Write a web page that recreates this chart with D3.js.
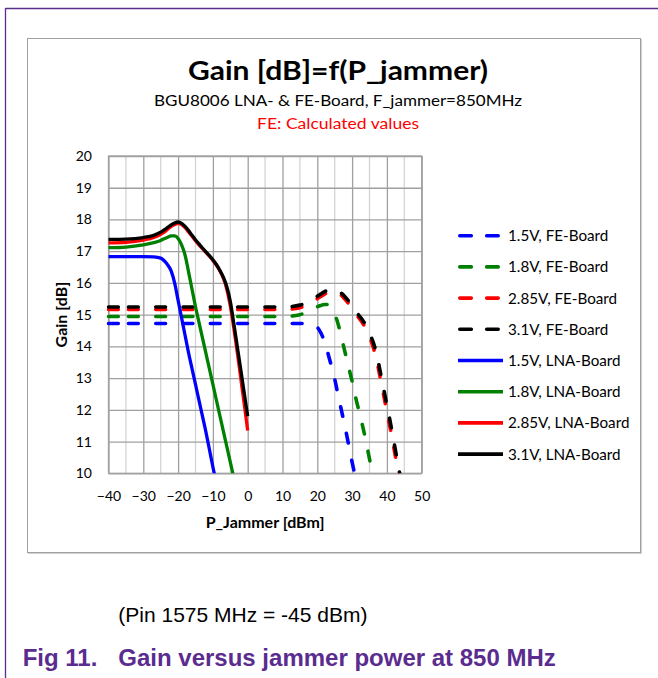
<!DOCTYPE html>
<html>
<head>
<meta charset="utf-8">
<script src="https://cdn.jsdelivr.net/npm/d3@7"></script>
<style>
  body { margin: 0; background: #fff; }
  .tick text { font-family: Lato, "Open Sans", sans-serif; font-size: 14px; fill: #000; }
  .lbl { font-family: Lato, "Open Sans", sans-serif; }
</style>
</head>
<body>
<div id="chart"></div>
<script>
// tick values
const xTicks = [-40, -30, -20, -10, 0, 10, 20, 30, 40, 50];
const yTicks = [10, 11, 12, 13, 14, 15, 16, 17, 18, 19, 20];

// FE-Board (calculated) - jammer power in dBm
const fePower = [-40, -30, -20, -10, 0, 10, 15, 18, 20, 21, 22, 23, 24, 25, 26, 27, 28, 29, 30, 31, 32, 33, 34, 35, 36, 37, 38, 39, 40, 41, 42, 43, 44];
const fe15 = [14.72, 14.72, 14.72, 14.72, 14.72, 14.72, 14.72, 14.71, 14.6, 14.43, 14.17, 13.8, 13.4, 12.97, 12.45, 11.95, 11.45, 10.9, 10.35, 9.85, null, null, null, null, null, null, null, null, null, null, null, null, null];
const fe18 = [14.94, 14.94, 14.94, 14.94, 14.94, 14.94, 15.0, 15.13, 15.25, 15.29, 15.32, 15.32, 15.22, 15.02, 14.7, 14.25, 13.8, 13.35, 12.9, 12.4, 11.95, 11.5, 11.0, 10.45, 9.9, null, null, null, null, null, null, null, null];
const fe285 = [15.16, 15.16, 15.16, 15.16, 15.16, 15.16, 15.22, 15.37, 15.5, 15.57, 15.64, 15.7, 15.73, 15.73, 15.68, 15.6, 15.48, 15.35, 15.2, 15.04, 14.89, 14.74, 14.55, 14.3, 14.0, 13.6, 13.05, 12.5, 11.95, 11.4, 10.8, 10.2, 9.6];
const fe31 = [15.24, 15.24, 15.24, 15.24, 15.24, 15.24, 15.3, 15.45, 15.58, 15.65, 15.72, 15.77, 15.8, 15.8, 15.75, 15.67, 15.56, 15.43, 15.28, 15.12, 14.97, 14.83, 14.66, 14.42, 14.15, 13.78, 13.25, 12.7, 12.15, 11.6, 11.0, 10.4, 9.8];

// LNA-Board (measured)
const lnaPower = [-40, -35, -30, -27, -25, -24, -23, -22, -21, -20, -19, -18, -17, -16, -15, -14, -13, -12, -11, -10, -9, -8, -7, -6, -5, -4, -3, -2, -1, 0];
const lna15 = [16.83, 16.83, 16.83, 16.82, 16.78, 16.7, 16.57, 16.38, 16.0, 15.45, 14.9, 14.35, 13.8, 13.3, 12.8, 12.3, 11.8, 11.3, 10.75, 10.2, 9.7, null, null, null, null, null, null, null, null, null];
const lna18 = [17.11, 17.13, 17.2, 17.27, 17.34, 17.39, 17.44, 17.48, 17.48, 17.4, 17.2, 16.88, 16.35, 15.8, 15.25, 14.76, 14.27, 13.78, 13.29, 12.8, 12.31, 11.82, 11.33, 10.84, 10.35, 9.86, null, null, null, null];
const lna285 = [17.26, 17.28, 17.35, 17.43, 17.53, 17.6, 17.69, 17.78, 17.84, 17.88, 17.84, 17.74, 17.61, 17.47, 17.33, 17.2, 17.08, 16.96, 16.84, 16.71, 16.56, 16.38, 16.15, 15.8, 15.27, 14.58, 13.82, 13.0, 12.18, 11.35];
const lna31 = [17.37, 17.38, 17.43, 17.5, 17.6, 17.67, 17.75, 17.83, 17.89, 17.92, 17.88, 17.78, 17.65, 17.5, 17.36, 17.23, 17.1, 16.98, 16.86, 16.73, 16.58, 16.4, 16.18, 15.88, 15.42, 14.73, 14.0, 13.27, 12.53, 11.8];

const seriesNames = ['1.5V, FE-Board', '1.8V, FE-Board', '2.85V, FE-Board', '3.1V, FE-Board',
                     '1.5V, LNA-Board', '1.8V, LNA-Board', '2.85V, LNA-Board', '3.1V, LNA-Board'];

function gainChart() {
    const W = 658, H = 678;
    const plot = {left: 108.5, right: 421.7, top: 156, bottom: 473.3};
    const purple = '#5b2c8f';
    const colors = ['#0000ff', '#008000', '#ff0000', '#000000'];
    // long dash pattern: one dash at the start, then a regular 9.8 / 17.5 rhythm
    const dashPattern = '9.8,10.15,' + d3.range(60).map(() => '9.8,17.5').join(',');

    const svg = d3.select('#chart')
        .append('svg')
        .attr('width', W)
        .attr('height', H);

    // page frame (document border)
    svg.append('line').attr('x1', 5.5).attr('x2', W).attr('y1', 8.5).attr('y2', 8.5)
        .attr('stroke', purple).attr('stroke-width', 1.3);
    svg.append('line').attr('x1', 5.5).attr('x2', 5.5).attr('y1', 8).attr('y2', H)
        .attr('stroke', purple).attr('stroke-width', 1.3);

    // chart area box with a slight shadow
    svg.append('rect').attr('x', 28.5).attr('y', 39.5).attr('width', 613).attr('height', 514)
        .attr('fill', 'none').attr('stroke', '#d0d0d0');
    svg.append('rect').attr('x', 27.5).attr('y', 38.5).attr('width', 613).attr('height', 514)
        .attr('fill', '#fff').attr('stroke', '#a0a0a0');

    const xScale = d3.scaleLinear().domain([-40, 50]).range([plot.left, plot.right]);
    const yScale = d3.scaleLinear().domain([10, 20]).range([plot.bottom, plot.top]);
    const pw = plot.right - plot.left, ph = plot.bottom - plot.top;

    // minor vertical grid every 5 dBm
    const minorX = d3.range(-35, 50, 10);
    svg.append('g')
        .selectAll('line')
        .data(minorX)
        .join('line')
        .attr('x1', d => xScale(d)).attr('x2', d => xScale(d))
        .attr('y1', plot.top).attr('y2', plot.bottom)
        .attr('stroke', '#d4d4d4').attr('stroke-width', 1.3);

    // major grids
    svg.append('g')
        .attr('transform', `translate(0, ${plot.bottom})`)
        .call(d3.axisBottom(xScale).tickValues(xTicks).tickSize(-ph).tickFormat(''))
        .call(g => g.select('.domain').remove())
        .call(g => g.selectAll('line').attr('stroke', '#a0a0a0').attr('stroke-width', 1.3));
    svg.append('g')
        .attr('transform', `translate(${plot.left}, 0)`)
        .call(d3.axisLeft(yScale).tickValues(yTicks).tickSize(-pw).tickFormat(''))
        .call(g => g.select('.domain').remove())
        .call(g => g.selectAll('line').attr('stroke', '#a0a0a0').attr('stroke-width', 1.3));
    svg.append('rect')
        .attr('x', plot.left).attr('y', plot.top).attr('width', pw).attr('height', ph)
        .attr('fill', 'none').attr('stroke', '#a0a0a0').attr('stroke-width', 1.3);

    // tick labels
    svg.append('g')
        .attr('transform', `translate(0, ${plot.bottom})`)
        .call(d3.axisBottom(xScale).tickValues(xTicks).tickSize(0).tickPadding(18))
        .call(g => g.select('.domain').remove());
    svg.append('g')
        .attr('transform', `translate(${plot.left}, 0)`)
        .call(d3.axisLeft(yScale).tickValues(yTicks).tickSize(0).tickPadding(16.5))
        .call(g => g.select('.domain').remove());

    // clip lines to plot area
    svg.append('clipPath').attr('id', 'plotClip')
        .append('rect')
        .attr('x', plot.left - 2).attr('y', plot.top)
        .attr('width', pw + 4).attr('height', ph);

    const series = [
        {x: fePower, y: fe15}, {x: fePower, y: fe18}, {x: fePower, y: fe285}, {x: fePower, y: fe31},
        {x: lnaPower, y: lna15}, {x: lnaPower, y: lna18}, {x: lnaPower, y: lna285}, {x: lnaPower, y: lna31}
    ].map((s, i) => ({
        name: seriesNames[i],
        color: colors[i % 4],
        dashed: i < 4,
        points: s.x.map((p, j) => [p, s.y[j]])
    }));

    const line = d3.line()
        .defined(d => d[1] !== null)
        .x(d => xScale(d[0]))
        .y(d => yScale(d[1]))
        .curve(d3.curveMonotoneX);

    svg.append('g')
        .attr('clip-path', 'url(#plotClip)')
        .selectAll('path')
        .data(series)
        .join('path')
        .attr('d', d => line(d.points))
        .attr('fill', 'none')
        .attr('stroke', d => d.color)
        .attr('stroke-width', d => d.dashed ? 3.6 : 3.3)
        .attr('stroke-linecap', d => d.dashed ? 'round' : 'butt')
        .attr('stroke-linejoin', 'round')
        .attr('stroke-dasharray', d => d.dashed ? dashPattern : null);

    // legend
    const legend = svg.append('g')
        .selectAll('g')
        .data(series)
        .join('g')
        .attr('transform', (d, i) => `translate(0, ${235.7 + i * 31.2})`);
    legend.append('line')
        .attr('x1', d => d.dashed ? 459.8 : 458).attr('x2', d => d.dashed ? 498.2 : 503)
        .attr('stroke', d => d.color)
        .attr('stroke-width', 3.6)
        .attr('stroke-linecap', d => d.dashed ? 'round' : 'butt')
        .attr('stroke-dasharray', d => d.dashed ? '11.5,15.4' : null);
    legend.append('text')
        .attr('class', 'lbl')
        .attr('x', 508)
        .attr('dy', '0.36em')
        .style('font-size', '15.2px')
        .text(d => d.name);

    // titles
    const cx = 338;
    svg.append('text').attr('class', 'lbl')
        .attr('x', cx).attr('y', 80)
        .attr('textLength', 300).attr('lengthAdjust', 'spacingAndGlyphs')
        .style('text-anchor', 'middle').style('font-size', '26px').style('font-weight', 'bold')
        .text('Gain [dB]=f(P_jammer)');
    svg.append('text').attr('class', 'lbl')
        .attr('x', cx).attr('y', 106)
        .attr('textLength', 368).attr('lengthAdjust', 'spacingAndGlyphs')
        .style('text-anchor', 'middle').style('font-size', '15.5px')
        .text('BGU8006 LNA- & FE-Board, F_jammer=850MHz');
    svg.append('text').attr('class', 'lbl')
        .attr('x', cx).attr('y', 129)
        .attr('textLength', 162).attr('lengthAdjust', 'spacingAndGlyphs')
        .style('text-anchor', 'middle').style('font-size', '15.5px').style('fill', '#ff0000')
        .text('FE: Calculated values');

    // axis titles
    svg.append('text').attr('class', 'lbl')
        .attr('x', (plot.left + plot.right) / 2).attr('y', 528)
        .style('text-anchor', 'middle').style('font-size', '16px').style('font-weight', 'bold')
        .text('P_Jammer [dBm]');
    svg.append('text').attr('class', 'lbl')
        .attr('transform', `translate(67, ${(plot.top + plot.bottom) / 2}) rotate(-90)`)
        .style('text-anchor', 'middle').style('font-size', '16px').style('font-weight', 'bold')
        .text('Gain [dB]');

    // caption below chart
    svg.append('text')
        .attr('x', 118.3).attr('y', 621.7)
        .style('font-family', '"Liberation Sans", Arial, sans-serif').style('font-size', '21px')
        .text('(Pin 1575 MHz = -45 dBm)');
    const cap = svg.append('g')
        .style('font-family', '"Liberation Sans", Arial, sans-serif')
        .style('font-size', '24px').style('font-weight', 'bold').style('fill', purple);
    cap.append('text').attr('x', 22.7).attr('y', 666).text('Fig 11.');
    cap.append('text').attr('x', 118.3).attr('y', 666).text('Gain versus jammer power at 850 MHz');
}

function main() {
    gainChart();
}

main();
</script>
</body>
</html>
